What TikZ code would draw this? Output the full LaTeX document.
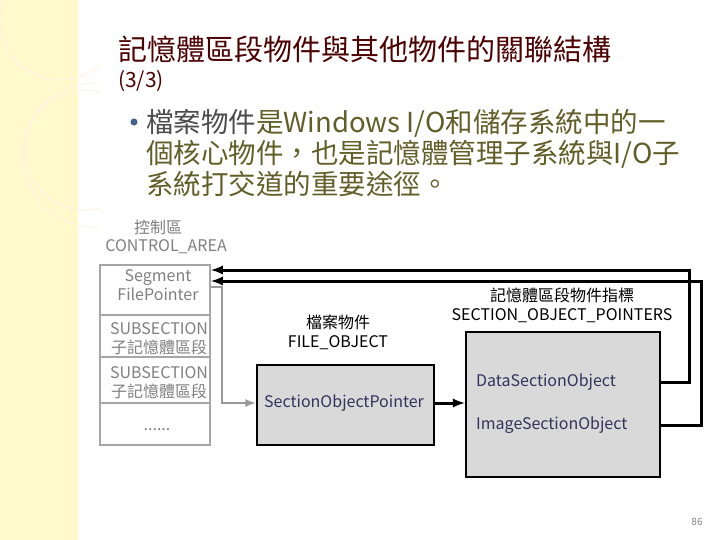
\documentclass[tikz,border=0pt]{standalone}
\usepackage{fontspec}
\setmainfont{Noto Sans CJK TC}
\begin{document}
\begin{tikzpicture}[x=1pt,y=-1pt,
  lbl/.style={inner sep=0pt,align=center,font=\fontsize{16}{19}\selectfont},
  glbl/.style={lbl,text=black!50},
  garr/.style={draw=black!40,line width=2.5pt,-latex},
  barr/.style={draw=black,line width=3pt,-latex},
  obox/.style={draw=black,line width=2.5pt,fill=black!15}]
\useasboundingbox (0,0) rectangle (720,540);
\fill[white] (0,0) rectangle (720,540);
\fill[orange!25!yellow!20!white] (0,0) rectangle (78,540);
\begin{scope}
\clip (0,0) rectangle (100,540);
\draw[white!90!orange,line width=1pt] (60,20) circle (60);
\draw[white!90!orange,line width=1pt] (85,150) circle (60);
\draw[white!90!orange,line width=1pt] (95,155) circle (72);
\end{scope}
% title
\node[anchor=west,inner sep=0pt,text=red!30!black,font=\fontsize{29}{34}\selectfont] (t1) at (118,50) {記憶體區段物件與其他物件的關聯結構};
\node[anchor=west,inner sep=0pt,text=red!30!black,font=\fontsize{21}{25}\selectfont] (t2) at (118,81) {(3/3)};
\node[circle,fill=cyan!50!blue!60!black,inner sep=2.5pt] (bul) at (134,122) {};
\node[anchor=west,inner sep=0pt,text=olive!60!black,font=\fontsize{27.5}{31}\selectfont,align=left] (body) at (146,153)
 {{\color{black!70}檔案物件}是Windows I/O和儲存系統中的一\\個核心物件，也是記憶體管理子系統與I/O子\\系統打交道的重要途徑。};
% control area
\node[glbl] (ca1) at (158,227) {控制區};
\node[glbl] (ca2) at (166,247) {CONTROL\_AREA};
\node[draw=black!35,line width=2pt,minimum width=110pt,minimum height=180pt,inner sep=0pt] (stack) at (155,355) {};
\draw[black!35,line width=2pt] (100,315) -- (210,315) (100,357) -- (210,357) (100,403) -- (210,403);
\node[glbl] (seg) at (158,285) {Segment\\ FilePointer};
\node[glbl] (ss1) at (159,339) {SUBSECTION\\子記憶體區段};
\node[glbl] (ss2) at (159,383) {SUBSECTION\\子記憶體區段};
\node[glbl] (dots) at (157,430) {......};
\coordinate (segA) at (211,270);
\coordinate (segB) at (211,281);
\coordinate (segC) at (211,287);
% file object
\node[lbl] (fo) at (338,332) {檔案物件\\FILE\_OBJECT};
\node[obox,minimum width=177pt,minimum height=80pt,inner sep=0pt] (fbox) at (345.5,405) {};
\node[lbl,anchor=west,text=blue!20!black!80] (sop) at (264,403) {SectionObjectPointer};
% section object pointers
\node[lbl] (sl) at (562,305) {記憶體區段物件指標\\SECTION\_OBJECT\_POINTERS};
\node[obox,minimum width=194pt,minimum height=145pt,inner sep=0pt] (sbox) at (563,404.5) {};
\node[lbl,anchor=west,text=blue!20!black!80] (dso) at (476,382) {DataSectionObject};
\node[lbl,anchor=west,text=blue!20!black!80] (iso) at (476,425) {ImageSectionObject};
\node[text=black!50,font=\fontsize{10}{12}\selectfont,inner sep=0pt] (pg) at (697,522) {86};
% connectors
\draw[barr] (sbox.east |- dso) -- ++(28,0) |- (segA);
\draw[barr] (sbox.east |- iso) -- ++(40,0) |- (segB);
\draw[garr] (segC) -- (222,287) |- (fbox.west |- sop);
\draw[barr] (fbox.east |- sop) -- (sbox.west |- sop);
\end{tikzpicture}
\end{document}
